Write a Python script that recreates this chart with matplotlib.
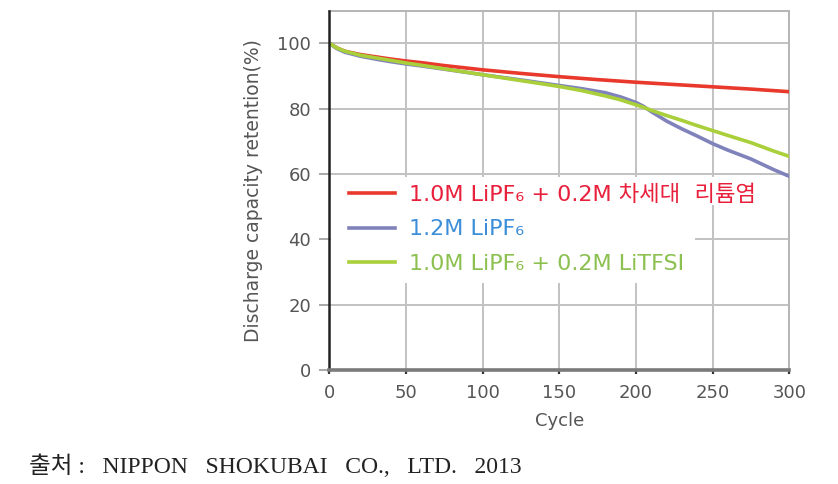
import matplotlib
matplotlib.use("Agg")
import matplotlib.pyplot as plt
from matplotlib.patches import Rectangle

cycles_red = [0, 5, 10, 20, 30, 40, 50, 60, 75, 100, 125, 150, 175, 200, 225, 250, 275, 300]
red = [100, 98.6, 97.6, 96.6, 95.9, 95.2, 94.6, 94.1, 93.2, 91.9, 90.8, 89.8, 88.9, 88.1, 87.4, 86.7, 86.0, 85.2]

cycles_blue = [0, 5, 10, 20, 30, 40, 50, 60, 75, 100, 125, 150, 165, 180, 190, 200, 205, 210, 220, 230, 240, 250, 260, 275, 290, 300]
blue = [100, 98.4, 97.3, 96.1, 95.2, 94.4, 93.7, 93.1, 92.1, 90.4, 88.8, 87.1, 86.1, 84.9, 83.6, 81.9, 80.7, 79.1, 76.2, 73.8, 71.6, 69.3, 67.3, 64.6, 61.3, 59.3]

cycles_green = [0, 5, 10, 20, 30, 40, 50, 60, 75, 100, 125, 150, 165, 180, 190, 200, 205, 210, 220, 230, 240, 250, 260, 275, 290, 300]
green = [100, 98.6, 97.6, 96.4, 95.6, 94.8, 94.0, 93.3, 92.2, 90.4, 88.6, 86.8, 85.5, 83.9, 82.7, 81.2, 80.4, 79.5, 77.9, 76.4, 74.8, 73.3, 71.8, 69.6, 67.0, 65.4]

labels = ["1.0M LiPF\u2086 + 0.2M 차세대  리튬염", "1.2M LiPF\u2086", "1.0M LiPF\u2086 + 0.2M LiTFSI"]
line_colors = ["#e8392c", "#8083bb", "#a9cf3a"]
text_colors = ["#e8203c", "#3c8ed8", "#8cc050"]

xticks = [0, 50, 100, 150, 200, 250, 300]
yticks = [0, 20, 40, 60, 80, 100]

plt.rcParams['font.family'] = ['DejaVu Sans', 'Noto Sans CJK KR']

fig = plt.figure(figsize=(8.38, 4.84), dpi=100)
x0, x1 = 329.3 / 838, 789.3 / 838
y0, y1 = 1 - 370 / 484, 1 - 10.7 / 484
ax = fig.add_axes([x0, y0, x1 - x0, y1 - y0])

# white legend background (irregular, as in the original)
ax.add_patch(Rectangle((0.003, 0.459), 0.955, 0.077, transform=ax.transAxes,
                       facecolor='white', edgecolor='none', zorder=1.5))
ax.add_patch(Rectangle((0.003, 0.242), 0.792, 0.22, transform=ax.transAxes,
                       facecolor='white', edgecolor='none', zorder=1.5))

series = [(cycles_red, red), (cycles_blue, blue), (cycles_green, green)]
handles = []
for (cx, cy), lab, col in zip(series, labels, line_colors):
    h, = ax.plot(cx, cy, color=col, lw=2.6, label=lab, zorder=3)
    handles.append(h)

ax.set_xlim(0, 300)
ax.set_ylim(0, 110)
ax.set_xticks(xticks)
ax.set_yticks(yticks)
ax.grid(True, color='#c2c2c2', lw=1.4, zorder=1)
ax.set_axisbelow(True)
for s in ['top', 'right']:
    ax.spines[s].set_color('#b5b5b5')
    ax.spines[s].set_linewidth(1.4)
ax.spines['left'].set_color('#222222')
ax.spines['left'].set_linewidth(1.8)
ax.spines['left'].set_zorder(4)
ax.spines['bottom'].set_color('#7a7a7a')
ax.spines['bottom'].set_linewidth(2.6)
ax.spines['bottom'].set_zorder(4)
ax.tick_params(axis='y', labelsize=13, labelcolor='#555555', color='#999999',
               length=7, width=1.2, pad=6)
ax.tick_params(axis='x', labelsize=13, labelcolor='#555555', color='#333333',
               length=3, width=1.6, pad=7)
ax.set_xlabel("Cycle", fontsize=13, color='#555555', labelpad=7)
ax.set_ylabel("Discharge capacity retention(%)", fontsize=13.5, color='#555555', labelpad=10)

leg = ax.legend(handles=handles, loc='upper left', bbox_to_anchor=(0.034, 0.529),
                frameon=False, fontsize=16, handlelength=2.07, handletextpad=0.63,
                labelspacing=0.66, borderpad=0.2, borderaxespad=0)
leg.set_zorder(5)
for t, c in zip(leg.get_texts(), text_colors):
    t.set_color(c)

fig.text(29 / 838, 1 - 473 / 484, "출처 :   NIPPON   SHOKUBAI   CO.,   LTD.   2013", fontsize=17,
         family=['Liberation Serif', 'Noto Sans CJK KR'], color='#222222')

fig.savefig("out.png", dpi=100)
